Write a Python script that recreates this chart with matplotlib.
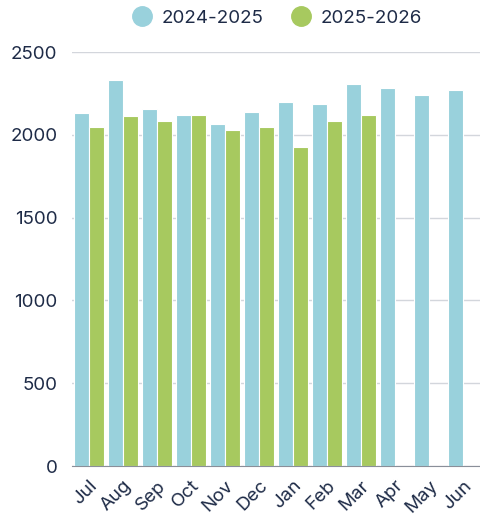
import matplotlib
matplotlib.use("Agg")
import matplotlib.pyplot as plt
from matplotlib.lines import Line2D
import numpy as np

plt.rcParams['font.family'] = ['Inter', 'DejaVu Sans']

months = ['Jul', 'Aug', 'Sep', 'Oct', 'Nov', 'Dec', 'Jan', 'Feb', 'Mar', 'Apr', 'May', 'Jun']
fy2425 = [2131, 2330, 2157, 2117, 2065, 2137, 2197, 2187, 2307, 2284, 2242, 2270]
fy2526 = [2047, 2111, 2085, 2121, 2029, 2048, 1924, 2081, 2117]
series_names = ['2024-2025', '2025-2026']

blue = '#99d1dc'
green = '#a7c95f'
txt = '#1e2b47'

fig = plt.figure(figsize=(4.8, 5.17), dpi=100)
ax = fig.add_axes([0.15, 0.0986, 0.85, 0.8008])

x = np.arange(len(months))
w = 0.44
ax.bar(x - 0.225, fy2425, w, color=blue, edgecolor='white', linewidth=0.8, zorder=3)
ax.bar(x[:len(fy2526)] + 0.225, fy2526, w, color=green, edgecolor='white', linewidth=0.8, zorder=3)

ax.set_xlim(-0.5, 11.5)
ax.set_ylim(0, 2500)
ax.set_yticks(range(0, 2501, 500))
ax.grid(axis='y', color='#d3d6dc', linewidth=1, zorder=0)
for s in ['top', 'right', 'left']:
    ax.spines[s].set_visible(False)
ax.spines['bottom'].set_color('#8a8f99')
ax.spines['bottom'].set_zorder(4)

ax.set_xticks(x)
ax.set_xticklabels(months, rotation=45, ha='right', rotation_mode='anchor')
ax.tick_params(axis='x', length=0, pad=8, labelsize=13.5, labelcolor=txt)
ax.tick_params(axis='y', length=0, pad=10.5, labelsize=13.5, labelcolor=txt)

handles = [Line2D([], [], marker='o', linestyle='', markersize=14, color=blue),
           Line2D([], [], marker='o', linestyle='', markersize=14, color=green)]
leg = ax.legend(handles, series_names, loc='lower center', bbox_to_anchor=(0.5, 1.02),
                ncol=2, frameon=False, fontsize=13.5, handletextpad=0.45,
                columnspacing=1.4, handlelength=1.2)
for t in leg.get_texts():
    t.set_color(txt)

fig.savefig('out.png', dpi=100)
